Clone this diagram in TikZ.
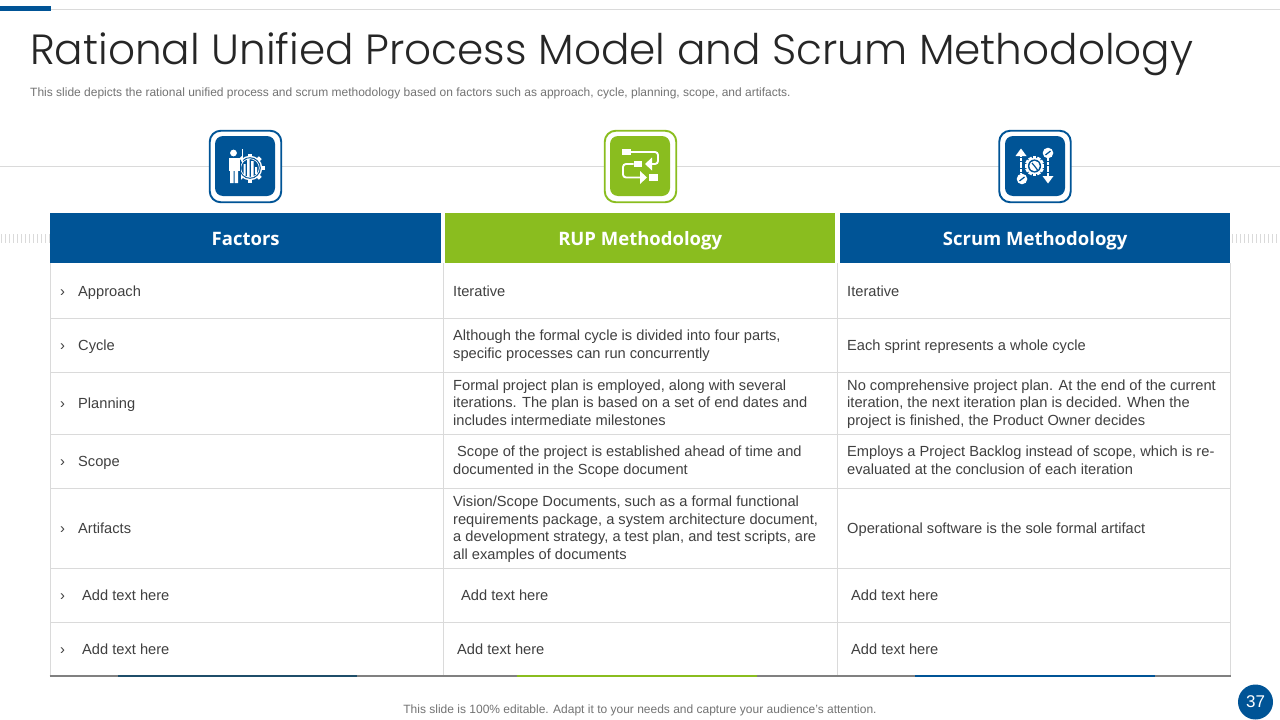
\documentclass[tikz,border=0pt]{standalone}
\usepackage{fontspec}
\setmainfont{Liberation Sans}
\newfontfamily\headfont{Open Sans}
\newfontfamily\titlefont{Poppins Light}
\definecolor{navy}{HTML}{005496}
\definecolor{leaf}{HTML}{8ABD1F}
\definecolor{ink}{HTML}{404040}
\definecolor{rule}{HTML}{DADADA}
\definecolor{deep}{HTML}{1F4E69}
\tikzset{
 celltext/.style={anchor=west,align=left,inner sep=0pt,yshift=-1.8pt,text=ink,font=\fontsize{14.65}{17.7}\selectfont,execute at begin node=\strut,execute at end node=\strut},
 headtext/.style={anchor=center,inner sep=0pt,yshift=-2.8pt,text=white,font=\headfont\fontsize{18.5}{22}\selectfont\bfseries,execute at begin node=\strut},
 grid/.style={draw=rule,line width=1pt},
 outerframe/.style={line width=1.9pt,rounded corners=11pt,fill=white},
 innerbox/.style={rounded corners=8pt},
 glyph/.style={white,line width=1.9pt},
 tick/.style={draw=rule,line width=0.9pt},
 notetext/.style={inner sep=0pt,yshift=-1.8pt,text=black!55,execute at begin node=\strut},
}
\begin{document}
\begin{tikzpicture}[x=1pt,y=-1pt]
\useasboundingbox (0,0) rectangle (1280,720);
\fill[white] (0,0) rectangle (1280,720);
% top rules
\draw[rule,line width=0.9pt] (50,9.5) -- (1280,9.5);
\fill[navy] (0,6) rectangle (51,11);
\draw[rule,line width=0.9pt] (0,166) -- (1280,166);
% side ticks
\foreach \x in {1,5,...,49}{\draw[tick] (\x,234) -- (\x,243);}
\foreach \x in {1232,1236,...,1280}{\draw[tick] (\x,234) -- (\x,243);}
% title
\node[anchor=base west,inner sep=0pt,text=black!85,font=\titlefont\fontsize{42.2}{50}\selectfont] (title) at (30,64.5) {Rational Unified Process Model and Scrum Methodology};
\node[notetext,anchor=west,font=\fontsize{12}{14}\selectfont] (sub) at (30,91.5) {This slide depicts the rational unified process and scrum methodology based on factors such as approach, cycle, planning, scope, and artifacts.};
% icon frames
\node[draw=navy,outerframe,minimum width=71.5pt,minimum height=71.5pt,inner sep=0pt] (f1) at (245.5,166.5) {};
\node[fill=navy,innerbox,minimum width=60pt,minimum height=60pt,inner sep=0pt] (b1) at (245,166) {};
\node[draw=leaf,outerframe,minimum width=71.5pt,minimum height=71.5pt,inner sep=0pt] (f2) at (640.5,166.5) {};
\node[fill=leaf,innerbox,minimum width=60pt,minimum height=60pt,inner sep=0pt] (b2) at (640,166) {};
\node[draw=navy,outerframe,minimum width=71.5pt,minimum height=71.5pt,inner sep=0pt] (f3) at (1035,166.5) {};
\node[fill=navy,innerbox,minimum width=60pt,minimum height=60pt,inner sep=0pt] (b3) at (1035,166) {};
% icon 1: person and gear chart
\foreach \a in {0,45,...,315}{\fill[white,shift={(250,168)},rotate=\a] (11,-2) rectangle (14.5,2);}
\fill[white] (250,168) circle (12.3pt);
\fill[navy] (250,168) circle (10.8pt);
\draw[white,line width=0.7pt] (250,168) circle (9.3pt);
\fill[white] (243.5,164) rectangle (245.5,175) (247,158.5) rectangle (249.5,177) (251,161) rectangle (253.5,177) (255,167) rectangle (257,174);
\fill[navy] (227,148) rectangle (240.5,186);
\fill[white] (233.5,153) circle (3.4pt);
\fill[white] (228.5,158) rectangle (239.5,171);
\fill[white] (230,171) rectangle (233.5,183) (234.5,171) rectangle (238,183);
\draw[white,line width=1pt] (242,149) -- (242,163);
\draw[white,line width=1.5pt] (239,160) -- (242,157);
% icon 2: flow
\fill[white] (622,149) rectangle (631,155);
\fill[white] (633.5,161) rectangle (642,167);
\fill[white] (649,174) rectangle (658,181);
\draw[glyph,rounded corners=3pt] (631,152) -- (658,152) -- (658,164) -- (650,164);
\fill[white] (645,164) -- (652,157.5) -- (652,170.5) -- cycle;
\draw[glyph,rounded corners=3pt] (633.5,164) -- (623,164) -- (623,177.5) -- (641,177.5);
\fill[white] (647,177.5) -- (640,171) -- (640,184) -- cycle;
% icon 3: gauge and arrows
\draw[white,line width=1.1pt,dash pattern=on 3pt off 0.8pt] (1021,154) -- (1021,174);
\fill[white] (1021,148.5) -- (1015.5,156) -- (1026.5,156) -- cycle;
\fill[white] (1022,179) circle (5.3pt);
\draw[navy,line width=1.2pt] (1019.5,181) -- (1024.5,177);
\draw[white,line width=1.1pt,dash pattern=on 3pt off 0.8pt] (1048,158) -- (1048,178);
\fill[white] (1048,183.5) -- (1042.5,176) -- (1053.5,176) -- cycle;
\fill[white] (1048,153) circle (5.3pt);
\draw[navy,line width=1.2pt] (1045.5,155) -- (1050.5,151);
\foreach \a in {0,30,...,330}{\fill[white,shift={(1034.5,166)},rotate=\a] (7,-1.8) rectangle (9.7,1.8);}
\fill[white] (1034.5,166) circle (8.2pt);
\fill[navy] (1034.5,166) circle (6.6pt);
\fill[white] (1034.5,166) circle (5.2pt);
\draw[navy,line width=1.2pt] (1034.5,166) -- (1037.5,170);
\draw[navy,line width=1.2pt] (1034.5,166) -- (1032,163);
% header
\node[fill=navy,minimum width=391pt,minimum height=50pt,inner sep=0pt,anchor=north west] (h1) at (50,213) {};
\node[fill=leaf,minimum width=390pt,minimum height=50pt,inner sep=0pt,anchor=north west] (h2) at (445,213) {};
\node[fill=navy,minimum width=390pt,minimum height=50pt,inner sep=0pt,anchor=north west] (h3) at (840,213) {};
\node[headtext] at (h1) {Factors};
\node[headtext] at (h2) {RUP Methodology};
\node[headtext] at (h3) {Scrum Methodology};
% grid
\foreach \y in {318,372,434,488,568,622}{\draw[grid] (50,\y) -- (1230,\y);}
\foreach \x in {50,443.5,837,1230}{\draw[grid] (\x,263) -- (\x,676);}
\draw[black!50,line width=1.1pt] (49.5,676) -- (1230.5,676);
\draw[deep,line width=1.8pt] (118,676) -- (357,676);
\draw[leaf,line width=1.8pt] (517,676) -- (757,676);
\draw[navy,line width=1.8pt] (915,676) -- (1155,676);
% first column
\foreach \n/\y in {a/291,b/345,c/403,d/461,e/528,f/595,g/649}{\node[celltext] (m\n) at (60,\y) {›};}
\node[celltext] (c11) at (78,291) {Approach};
\node[celltext] (c21) at (78,345) {Cycle};
\node[celltext] (c31) at (78,403) {Planning};
\node[celltext] (c41) at (78,461) {Scope};
\node[celltext] (c51) at (78,528) {Artifacts};
\node[celltext] (c61) at (82,595) {Add text here};
\node[celltext] (c71) at (82,649) {Add text here};
% second column
\node[celltext] (c12) at (453,291) {Iterative};
\node[celltext] (c22) at (453,345) {Although the formal cycle is divided into four parts,\\specific processes can run concurrently};
\node[celltext] (c32) at (453,403.5) {Formal project plan is employed, along with several\\iterations. The plan is based on a set of end dates and\\includes intermediate milestones};
\node[celltext] (c42) at (453,461) {\hspace{4pt}Scope of the project is established ahead of time and\\documented in the Scope document};
\node[celltext] (c52) at (453,528.5) {Vision/Scope Documents, such as a formal functional\\requirements package, a system architecture document,\\a development strategy, a test plan, and test scripts, are\\all examples of documents};
\node[celltext] (c62) at (461,595) {Add text here};
\node[celltext] (c72) at (457,649) {Add text here};
% third column
\node[celltext] (c13) at (847,291) {Iterative};
\node[celltext] (c23) at (847,345) {Each sprint represents a whole cycle};
\node[celltext] (c33) at (847,403.5) {No comprehensive project plan. At the end of the current\\iteration, the next iteration plan is decided. When the\\project is finished, the Product Owner decides};
\node[celltext] (c43) at (847,461) {Employs a Project Backlog instead of scope, which is re-\\evaluated at the conclusion of each iteration};
\node[celltext] (c53) at (847,528) {Operational software is the sole formal artifact};
\node[celltext] (c63) at (851,595) {Add text here};
\node[celltext] (c73) at (851,649) {Add text here};
% footer
\node[notetext,anchor=center,font=\fontsize{12}{14}\selectfont] (foot) at (640,708.5) {This slide is 100\% editable. Adapt it to your needs and capture your audience's attention.};
\node[circle,fill=navy,minimum size=35pt,inner sep=0pt,text=white,font=\fontsize{17}{20}\selectfont] (page) at (1255.5,702) {37};
\end{tikzpicture}
\end{document}
